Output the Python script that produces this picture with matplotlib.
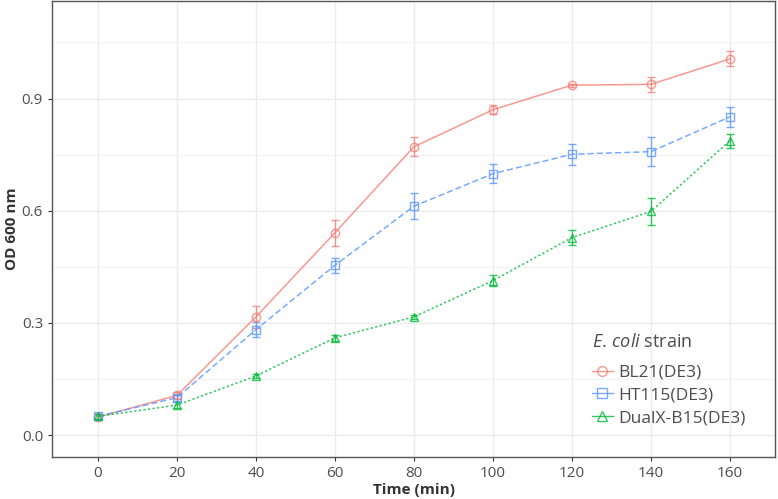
import matplotlib
matplotlib.use('Agg')
import matplotlib.pyplot as plt
from matplotlib.lines import Line2D
import numpy as np

plt.rcParams['font.family'] = ['Open Sans', 'DejaVu Sans']
plt.rcParams['mathtext.fontset'] = 'custom'
plt.rcParams['mathtext.rm'] = 'Open Sans'
plt.rcParams['mathtext.it'] = 'Open Sans:italic'

# 数据
time = [0, 20, 40, 60, 80, 100, 120, 140, 160]
strains = ['BL21(DE3)', 'HT115(DE3)', 'DualX-B15(DE3)']
bl21 = [0.048, 0.106, 0.316, 0.541, 0.771, 0.870, 0.936, 0.938, 1.006]
bl21_err = [0.006, 0.010, 0.030, 0.035, 0.025, 0.012, 0.004, 0.020, 0.020]
ht115 = [0.050, 0.100, 0.282, 0.454, 0.612, 0.699, 0.751, 0.758, 0.851]
ht115_err = [0.006, 0.008, 0.020, 0.020, 0.035, 0.026, 0.028, 0.038, 0.027]
dualx = [0.050, 0.080, 0.158, 0.260, 0.316, 0.413, 0.528, 0.598, 0.787]
dualx_err = [0.006, 0.008, 0.006, 0.008, 0.006, 0.015, 0.021, 0.036, 0.018]

values = [bl21, ht115, dualx]
errors = [bl21_err, ht115_err, dualx_err]
colors = ['#F8766D', '#619CFF', '#00BA38']
markers = ['o', 's', '^']
alphas = [0.75, 0.85, 0.8]

fig = plt.figure(figsize=(7.78, 4.99), dpi=100)
ax = fig.add_axes([0.067, 0.084, 0.929, 0.914])

handles = []
for v, e, c, m, a, lab, ls in zip(values, errors, colors, markers, alphas, strains,
                                  ['-', (0, (4, 2)), (0, (1.5, 1.5))]):
    ax.errorbar(time, v, yerr=e, color=c, marker=m, markersize=6, markerfacecolor='none',
                markeredgewidth=1.0, linestyle=ls, linewidth=1.1, capsize=3, elinewidth=1.0,
                capthick=1.0, alpha=a, zorder=3)
    # 图例只要线+点
    handles.append(Line2D([], [], color=c, marker=m, markersize=7, markerfacecolor='none',
                          linewidth=1.0, alpha=a, label=lab))

ax.set_xlim(-11.6, 171.4)
ax.set_ylim(-0.059, 1.161)
ax.set_xticks(time)
ax.set_yticks([0.0, 0.3, 0.6, 0.9])
ax.set_yticks([0.15, 0.45, 0.75, 1.05], minor=True)
ax.yaxis.set_major_formatter(matplotlib.ticker.FormatStrFormatter('%.1f'))
ax.grid(True, which='major', color='#EBEBEB', linewidth=1.0, zorder=0)
ax.grid(True, which='minor', axis='y', color='#F3F3F3', linewidth=0.8, zorder=0)
ax.set_axisbelow(True)
ax.tick_params(which='minor', length=0)
ax.tick_params(which='major', length=3, color='#333333', labelsize=11, labelcolor='#4D4D4D')
for s in ax.spines.values():
    s.set_color('#555555')
    s.set_linewidth(1.0)

ax.set_xlabel('Time (min)', fontsize=11, fontweight='bold', color='#333333', labelpad=1)
ax.set_ylabel('OD 600 nm', fontsize=11, fontweight='bold', color='#333333', labelpad=2)

leg = ax.legend(handles=handles, title=r'$\it{E.\,coli}$ strain', loc='upper left',
                bbox_to_anchor=(0.747, 0.273),
                frameon=False, fontsize=12.5, title_fontsize=13, handlelength=1.2,
                handletextpad=0.3, labelspacing=0.38, alignment='left', borderpad=0,
                borderaxespad=0)
for t in leg.get_texts():
    t.set_color('#4D4D4D')
leg.get_title().set_color('#4D4D4D')
leg._legend_box.sep = 10

fig.savefig('out.png', dpi=100)
